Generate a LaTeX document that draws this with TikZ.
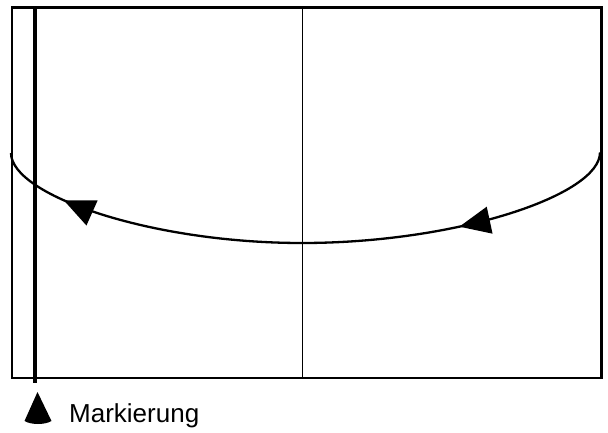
\documentclass[tikz,border=0pt]{standalone}
\usepackage{fontspec}
\setmainfont{Liberation Sans}
\usetikzlibrary{arrows.meta,decorations.markings}
\begin{document}
\begin{tikzpicture}[x=1pt,y=-1pt,
  frame/.style={draw=black,line width=2.5pt},
  marker/.style={draw=black,line width=4.6pt},
  midline/.style={draw=black,line width=1pt},
  orbit/.style={draw=black,line width=2.3pt,
    postaction={decorate},
    decoration={markings,
      mark=at position 166pt with {\arrow{Triangle[length=31pt,width=27pt]}},
      mark=at position -74pt with {\arrow{Triangle[length=31pt,width=27pt]}}}},
  label/.style={font=\fontsize{26}{30}\selectfont,anchor=base west,inner sep=0pt}]
\useasboundingbox (0,0) rectangle (608,433);
\coordinate (TL) at (12,7.5);
\coordinate (BR) at (601.5,378);
\draw[frame] (TL) rectangle (BR);
\coordinate (mt) at (302,7.5);
\coordinate (mb) at (302,378);
\draw[midline] (mt) -- (mb);
\coordinate (kt) at (35,7.5);
\coordinate (kb) at (35,383);
\draw[marker] (kt) -- (kb);
% orbit, travelling right to left
\coordinate (oR) at (600,152.5);
\coordinate (oM) at (302,243);
\coordinate (oL) at (11,153);
\draw[orbit] (oR) .. controls (600,195) and (457,243) .. (oM)
                  .. controls (150,243) and (11,195) .. (oL);
% marker symbol and label
\fill[black] (37.5,392) -- (24.5,421) .. controls (31,425) and (45,425) .. (51.5,421) -- cycle;
\node[label] (lbl) at (69,422) {Markierung};
\end{tikzpicture}
\end{document}
